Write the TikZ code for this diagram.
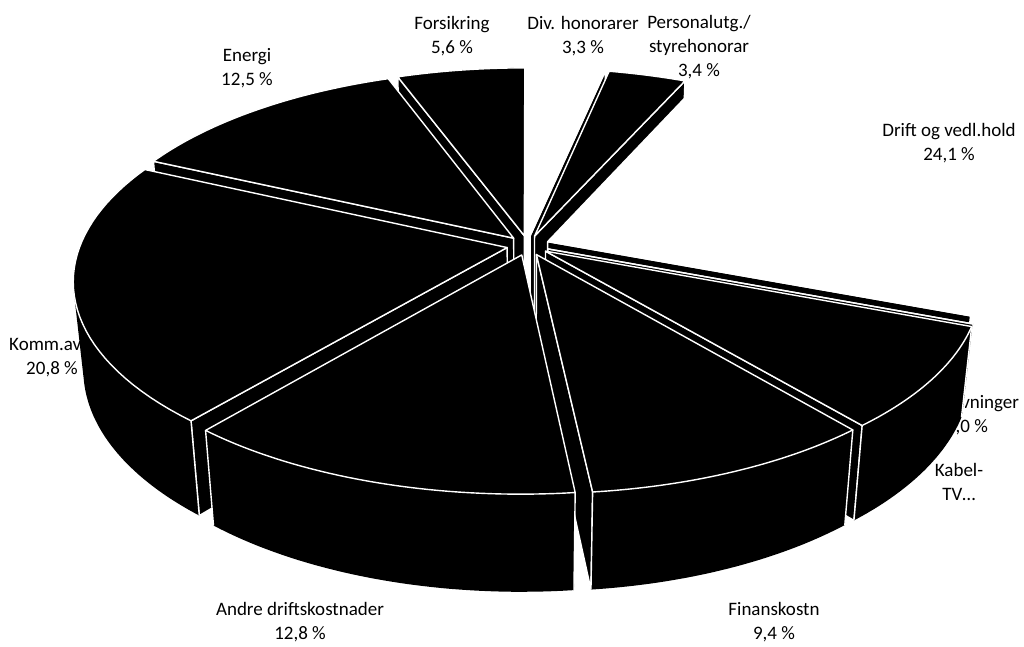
\documentclass[tikz,border=0pt]{standalone}
\usepackage{fontspec}
\setmainfont{Carlito}
\usepackage{tikz}
\usetikzlibrary{calc}

\newcommand{\pieexpl}{0.05}
% one exploded slice: start angle, end angle (clockwise from 12 o'clock), dark/light
\newcommand{\pieslice}[3]{%
	\pgfmathsetmacro{\slcM}{(#1+#2)/2}%
	\pgfmathsetmacro{\slcU}{\pieexpl*sin(\slcM)}%
	\pgfmathsetmacro{\slcW}{\pieexpl*cos(\slcM)}%
	\pgfmathsetmacro{\slcP}{max(#1,102)}%
	\pgfmathsetmacro{\slcQ}{min(#2,258)}%
	\pgfmathtruncatemacro{\slcS}{sin(#1)<-0.01}%
	\pgfmathtruncatemacro{\slcE}{sin(#2)>0.01}%
	\pgfmathtruncatemacro{\slcSide}{\slcQ-\slcP>0.5}%
	\pgfmathtruncatemacro{\slcWide}{#2-#1>0.01}%
	\pgfmathtruncatemacro{\slcVa}{and(#1>=102,#1<=258)}%
	\pgfmathtruncatemacro{\slcVb}{and(#2>=102,#2<=258)}%
	\path ({tx(\slcU,\slcW)},{ty(\slcU,\slcW)}) coordinate (hubT)
		({bx(\slcU,\slcW)},{by(\slcU,\slcW)}) coordinate (hubB)
		({tx(\slcU+sin(#1),\slcW+cos(#1))},{ty(\slcU+sin(#1),\slcW+cos(#1))}) coordinate (rimAT)
		({bx(\slcU+sin(#1),\slcW+cos(#1))},{by(\slcU+sin(#1),\slcW+cos(#1))}) coordinate (rimAB)
		({tx(\slcU+sin(#2),\slcW+cos(#2))},{ty(\slcU+sin(#2),\slcW+cos(#2))}) coordinate (rimBT)
		({bx(\slcU+sin(#2),\slcW+cos(#2))},{by(\slcU+sin(#2),\slcW+cos(#2))}) coordinate (rimBB);
	\ifnum\slcS=1 \draw[cutface] (hubT) -- (rimAT) -- (rimAB) -- (hubB) -- cycle; \fi
	\ifnum\slcE=1 \draw[cutface] (hubT) -- (rimBT) -- (rimBB) -- (hubB) -- cycle; \fi
	\ifnum\slcSide=1
		\fill[#3side] plot[rimplot, domain=\slcP:\slcQ] ({tx(\slcU+sin(\ang),\slcW+cos(\ang))},{ty(\slcU+sin(\ang),\slcW+cos(\ang))})
			-- plot[rimplot, domain=\slcQ:\slcP] ({bx(\slcU+sin(\ang),\slcW+cos(\ang))},{by(\slcU+sin(\ang),\slcW+cos(\ang))}) -- cycle;
	\fi
	\ifnum\slcVa=1 \draw[#3edge] (rimAT) -- (rimAB); \fi
	\ifnum\slcVb=1 \draw[#3edge] (rimBT) -- (rimBB); \fi
	\ifnum\slcWide=1
		\draw[#3top] (hubT) -- plot[rimplot, domain=#1:#2] ({tx(\slcU+sin(\ang),\slcW+cos(\ang))},{ty(\slcU+sin(\ang),\slcW+cos(\ang))}) -- cycle;
	\else
		\draw[#3top] (hubT) -- (rimAT);
	\fi
}

\begin{document}
\begin{tikzpicture}[x=1pt, y=-1pt, line join=round,
			declare function={tx(\qu,\qw)=528+427*\qu/(1+0.16*\qw);
				ty(\qu,\qw)=245.4-197.6*\qw/(1+0.16*\qw);
				bx(\qu,\qw)=528+427*\qu/(1.022+0.16*\qw);
				by(\qu,\qw)=245.4+(88.9-197.6*\qw)/(1.022+0.16*\qw);},
			lbl/.style={draw=none, align=center, inner sep=0pt, text=black, font=\fontsize{19}{24}\selectfont},
			rimplot/.style={samples=40, variable=\ang},
			cutface/.style={fill=black, draw=white, line width=1.4pt},
			darktop/.style={fill=black, draw=white, line width=1.4pt},
			darkside/.style={fill=black},
			darkedge/.style={draw=white, line width=1.4pt},
			lighttop/.style={fill=white, draw=white, line width=1.4pt},
			lightside/.style={fill=white},
			lightedge/.style={draw=none}
			]
			\fill[white] (0,0) rectangle (1024,646);
			
			\node[lbl](forsikring) at (452,36) {Forsikring\\5,6 \%};
			\node[lbl](divhon) at (583,36) {Div. honorarer\\3,3 \%};
			\node[lbl](personal) at (699,47) {Personalutg./\\styrehonorar\\3,4 \%};
			\node[lbl](energi) at (247,68) {Energi\\12,5 \%};
			\node[lbl](drift) at (949,143) {Drift og vedl.hold\\24,1 \%};
			\node[lbl](komm) at (52,358) {Komm.avg.\\20,8 \%};
			\node[lbl](avskr) at (967,415) {Avskrivninger\\0,0 \%};
			\node[lbl](kabel) at (959,482) {Kabel-\\TV\ldots};
			\node[lbl](andre) at (300,622) {Andre driftskostnader\\12,8 \%};
			\node[lbl](finans) at (774,622) {Finanskostn\\9,4 \%};
			
			% back to front
			\pieslice{0}{11.88}{light}
			\pieslice{339.84}{360}{dark}
			\pieslice{11.88}{24.12}{dark}
			\pieslice{294.84}{339.84}{dark}
			\pieslice{24.12}{110.88}{light}
			\pieslice{219.96}{294.84}{dark}
			\pieslice{110.88}{110.88}{dark}
			\pieslice{110.88}{140.04}{dark}
			\pieslice{140.04}{173.88}{dark}
			\pieslice{173.88}{219.96}{dark}
			
\end{tikzpicture}
\end{document}
